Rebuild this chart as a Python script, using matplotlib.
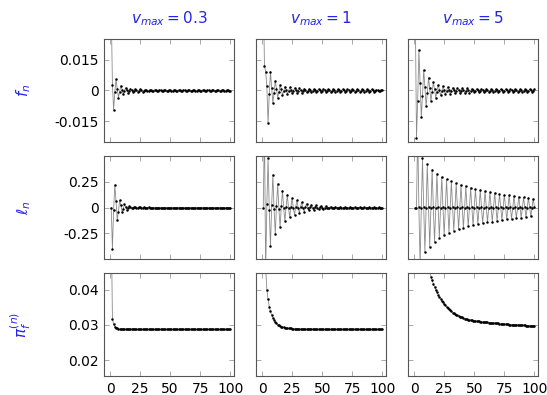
"""Grid of f_n, l_n and pi_f^(n) sequences for three v_max values."""

import matplotlib
matplotlib.use('Agg')
import matplotlib.pyplot as plt

plt.rcParams['font.family'] = 'DejaVu Sans'
plt.rcParams['mathtext.fontset'] = 'dejavusans'

n_steps = list(range(1, 101))
vmax_titles = ['$v_{max} = 0.3$', '$v_{max} = 1$', '$v_{max} = 5$']
row_labels = ['$f_n$', r'$\ell_n$', r'$\pi_f^{(n)}$']
x_ticks = [0, 25, 50, 75, 100]
row_yticks = [[-0.015, 0, 0.015], [-0.25, 0, 0.25], [0.02, 0.03, 0.04]]
row_yticklabels = [['-0.015', '0', '0.015'], ['-0.25', '0', '0.25'],
                   ['0.02', '0.03', '0.04']]

f_03 = [
    0.04, 0.0028, -0.0093, -0.0008, 0.0055, 0.0006, -0.0034, -0.0005,
    0.0024, 0.0004, -0.0017, -0.0003, 0.0013, 0.0003, -0.0010, -0.0002,
    0.0008, 0.0002, -0.0007, -0.0002, 0.0006, 0.0001, -0.0005, -0.0001,
    0.0005, 0.0001, -0.0005, -0.0001, 0.0004, 0.0001, -0.0004, -0.0001,
    0.0004, 0.0001, -0.0004, -0.0001, 0.0004, 0.0001, -0.0004, -0.0001,
    0.0004, 0.0001, -0.0004, -0.0001, 0.0004, 0.0001, -0.0004, -0.0001,
    0.0004, 0.0001, -0.0004, -0.0001, 0.0004, 0.0001, -0.0004, -0.0001,
    0.0004, 0.0001, -0.0004, -0.0001, 0.0003, 0.0001, -0.0003, -0.0001,
    0.0003, 0.0001, -0.0003, -0.0001, 0.0003, 0.0001, -0.0003, -0.0001,
    0.0003, 0.0001, -0.0003, -0.0001, 0.0003, 0.0001, -0.0003, -0.0001,
    0.0003, 0.0001, -0.0003, -0.0001, 0.0003, 0.0001, -0.0003, -0.0001,
    0.0003, 0.0001, -0.0003, -0.0001, 0.0003, 0.0001, -0.0003, -0.0001,
    0.0003, 0.0001, -0.0003, -0.0001,
]
f_1 = [
    0.05, 0.012, 0.0092, 0.0020, -0.0158, -0.0017, 0.0092, 0.0012,
    -0.0061, -0.0010, 0.0047, 0.0008, -0.0034, -0.0006, 0.0028, 0.0005,
    -0.0022, -0.0004, 0.0019, 0.0004, -0.0017, -0.0003, 0.0015, 0.0003,
    -0.0013, -0.0003, 0.0012, 0.0002, -0.0011, -0.0002, 0.0010, 0.0002,
    -0.0010, -0.0002, 0.0009, 0.0002, -0.0009, -0.0002, 0.0008, 0.0002,
    -0.0008, -0.0001, 0.0007, 0.0001, -0.0008, -0.0001, 0.0007, 0.0001,
    -0.0007, -0.0001, 0.0007, 0.0001, -0.0007, -0.0001, 0.0006, 0.0001,
    -0.0007, -0.0001, 0.0006, 0.0001, -0.0006, -0.0001, 0.0006, 0.0001,
    -0.0006, -0.0001, 0.0006, 0.0001, -0.0006, -0.0001, 0.0005, 0.0001,
    -0.0006, -0.0001, 0.0005, 0.0001, -0.0005, -0.0001, 0.0005, 0.0001,
    -0.0005, -0.0001, 0.0005, 0.0001, -0.0005, -0.0001, 0.0005, 0.0001,
    -0.0005, -0.0001, 0.0005, 0.0001, -0.0005, -0.0001, 0.0004, 0.0001,
    -0.0004, -0.0001, 0.0004, 0.0001,
]
f_5 = [
    0.04, -0.023, -0.0050, 0.0197, 0.0036, -0.0130, -0.0025, 0.0100,
    0.0018, -0.0077, -0.0013, 0.0063, 0.0010, -0.0050, -0.0008, 0.0040,
    0.0006, -0.0034, -0.0005, 0.0029, 0.0004, -0.0024, -0.0004, 0.0021,
    0.0003, -0.0019, -0.0003, 0.0017, 0.0003, -0.0016, -0.0003, 0.0014,
    0.0002, -0.0013, -0.0002, 0.0012, 0.0002, -0.0012, -0.0002, 0.0011,
    0.0002, -0.0011, -0.0002, 0.0010, 0.0002, -0.0010, -0.0002, 0.0009,
    0.0002, -0.0009, -0.0002, 0.0009, 0.0002, -0.0009, -0.0002, 0.0008,
    0.0001, -0.0008, -0.0001, 0.0008, 0.0001, -0.0008, -0.0001, 0.0007,
    0.0001, -0.0007, -0.0001, 0.0007, 0.0001, -0.0007, -0.0001, 0.0007,
    0.0001, -0.0007, -0.0001, 0.0006, 0.0001, -0.0006, -0.0001, 0.0006,
    0.0001, -0.0006, -0.0001, 0.0006, 0.0001, -0.0006, -0.0001, 0.0006,
    0.0001, -0.0006, -0.0001, 0.0005, 0.0001, -0.0005, -0.0001, 0.0005,
    0.0001, -0.0005, -0.0001, 0.0005,
]

l_03 = [
    0.0, -0.40, -0.02, 0.22, 0.06, -0.12, -0.04, 0.07,
    0.02, -0.04, -0.01, 0.03, 0.008, -0.02, -0.005, 0.012,
    0.004, -0.008, -0.003, 0.005, 0.002, -0.004, -0.001, 0.003,
    0.001, -0.002, -0.001, 0.001, 0.0, -0.001, 0.0, 0.001,
    0.0, 0.0, 0.0, 0.0, 0.0, 0.0, 0.0, 0.0,
    0.0, 0.0, 0.0, 0.0, 0.0, 0.0, 0.0, 0.0,
    0.0, 0.0, 0.0, 0.0, 0.0, 0.0, 0.0, 0.0,
    0.0, 0.0, 0.0, 0.0, 0.0, 0.0, 0.0, 0.0,
    0.0, 0.0, 0.0, 0.0, 0.0, 0.0, 0.0, 0.0,
    0.0, 0.0, 0.0, 0.0, 0.0, 0.0, 0.0, 0.0,
    0.0, 0.0, 0.0, 0.0, 0.0, 0.0, 0.0, 0.0,
    0.0, 0.0, 0.0, 0.0, 0.0, 0.0, 0.0, 0.0,
    0.0, 0.0, 0.0, 0.0,
]
l_1 = [
    0.0, 0.80, -0.62, 0.03, 0.479, -0.02, -0.378, 0.025,
    0.317, -0.015, -0.258, 0.018, 0.227, -0.012, -0.190, 0.012,
    0.165, -0.009, -0.129, 0.009, 0.123, -0.007, -0.095, 0.006,
    0.091, -0.005, -0.070, 0.004, 0.068, -0.003, -0.052, 0.003,
    0.050, -0.002, -0.039, 0.002, 0.037, -0.002, -0.029, 0.002,
    0.028, -0.001, -0.022, 0.001, 0.021, -0.001, -0.016, 0.001,
    0.016, 0.0, -0.012, 0.0, 0.012, 0.0, -0.009, 0.0,
    0.009, 0.0, -0.007, 0.0, 0.007, 0.0, -0.005, 0.0,
    0.005, 0.0, -0.004, 0.0, 0.004, 0.0, -0.003, 0.0,
    0.003, 0.0, -0.002, 0.0, 0.002, 0.0, -0.002, 0.0,
    0.002, 0.0, -0.0015, 0.0, 0.0015, 0.0, -0.001, 0.0,
    0.001, 0.0, -0.001, 0.0, 0.001, 0.0, -0.001, 0.0,
    0.001, 0.0, -0.001, 0.0,
]
l_5 = [
    0.0, 0.0, 0.75, 0.004, -0.56, -0.004, 0.479, 0.004,
    -0.430, -0.004, 0.420, 0.004, -0.384, -0.004, 0.368, 0.004,
    -0.335, -0.004, 0.328, 0.004, -0.298, -0.004, 0.298, 0.004,
    -0.268, -0.004, 0.274, 0.004, -0.245, -0.004, 0.253, 0.004,
    -0.225, -0.004, 0.235, 0.004, -0.208, -0.004, 0.220, 0.004,
    -0.195, -0.004, 0.206, 0.004, -0.183, -0.005, 0.193, 0.005,
    -0.172, -0.005, 0.181, 0.005, -0.162, -0.005, 0.170, 0.005,
    -0.153, -0.005, 0.160, 0.005, -0.145, -0.005, 0.151, 0.005,
    -0.137, -0.006, 0.142, 0.006, -0.130, -0.006, 0.134, 0.006,
    -0.123, -0.006, 0.126, 0.006, -0.116, -0.006, 0.119, 0.006,
    -0.110, -0.007, 0.112, 0.007, -0.104, -0.007, 0.105, 0.007,
    -0.098, -0.007, 0.099, 0.007, -0.092, -0.007, 0.093, 0.007,
    -0.087, -0.008, 0.087, 0.008,
]

pi_03 = [
    0.060, 0.0317, 0.0302, 0.0295, 0.0292, 0.0290, 0.0289, 0.0288,
    0.0288, 0.0288, 0.0288, 0.0288, 0.0288, 0.0288, 0.0288, 0.0288,
    0.0288, 0.0288, 0.0288, 0.0288, 0.0287, 0.0287, 0.0287, 0.0287,
    0.0287, 0.0287, 0.0287, 0.0287, 0.0287, 0.0287, 0.0287, 0.0287,
    0.0287, 0.0287, 0.0287, 0.0287, 0.0287, 0.0287, 0.0287, 0.0287,
    0.0287, 0.0287, 0.0287, 0.0287, 0.0287, 0.0287, 0.0287, 0.0287,
    0.0287, 0.0287, 0.0287, 0.0287, 0.0287, 0.0287, 0.0287, 0.0287,
    0.0287, 0.0287, 0.0287, 0.0287, 0.0287, 0.0287, 0.0287, 0.0287,
    0.0287, 0.0287, 0.0287, 0.0287, 0.0287, 0.0287, 0.0287, 0.0287,
    0.0287, 0.0287, 0.0287, 0.0287, 0.0287, 0.0287, 0.0287, 0.0287,
    0.0287, 0.0287, 0.0287, 0.0287, 0.0287, 0.0287, 0.0287, 0.0287,
    0.0287, 0.0287, 0.0287, 0.0287, 0.0287, 0.0287, 0.0287, 0.0287,
    0.0287, 0.0287, 0.0287, 0.0287,
]
pi_1 = [
    0.085, 0.058, 0.046, 0.040, 0.0372, 0.0352, 0.0338, 0.0328,
    0.0320, 0.0314, 0.0309, 0.0305, 0.0301, 0.0299, 0.0297, 0.0295,
    0.0294, 0.0293, 0.0292, 0.0291, 0.0291, 0.0290, 0.0290, 0.0290,
    0.0289, 0.0289, 0.0289, 0.0289, 0.0289, 0.0289, 0.0288, 0.0288,
    0.0288, 0.0288, 0.0288, 0.0288, 0.0288, 0.0288, 0.0288, 0.0288,
    0.0288, 0.0288, 0.0288, 0.0288, 0.0287, 0.0287, 0.0287, 0.0287,
    0.0287, 0.0287, 0.0287, 0.0287, 0.0287, 0.0287, 0.0287, 0.0287,
    0.0287, 0.0287, 0.0287, 0.0287, 0.0287, 0.0287, 0.0287, 0.0287,
    0.0287, 0.0287, 0.0287, 0.0287, 0.0287, 0.0287, 0.0287, 0.0287,
    0.0287, 0.0287, 0.0287, 0.0287, 0.0287, 0.0287, 0.0287, 0.0287,
    0.0287, 0.0287, 0.0287, 0.0287, 0.0287, 0.0287, 0.0287, 0.0287,
    0.0287, 0.0287, 0.0287, 0.0287, 0.0287, 0.0287, 0.0287, 0.0287,
    0.0287, 0.0287, 0.0287, 0.0287,
]
pi_5 = [
    0.150, 0.120, 0.100, 0.088, 0.078, 0.070, 0.064, 0.059,
    0.055, 0.052, 0.049, 0.0468, 0.0450, 0.0437, 0.0426, 0.0416,
    0.0408, 0.0400, 0.0393, 0.0386, 0.0380, 0.0374, 0.0369, 0.0364,
    0.0359, 0.0355, 0.0351, 0.0347, 0.0344, 0.0341, 0.0338, 0.0335,
    0.0333, 0.0331, 0.0329, 0.0327, 0.0325, 0.0323, 0.0322, 0.0321,
    0.0319, 0.0318, 0.0317, 0.0316, 0.0315, 0.0314, 0.0314, 0.0313,
    0.0312, 0.0312, 0.0311, 0.0311, 0.0310, 0.0310, 0.0309, 0.0309,
    0.0308, 0.0308, 0.0307, 0.0307, 0.0307, 0.0306, 0.0306, 0.0306,
    0.0305, 0.0305, 0.0305, 0.0304, 0.0304, 0.0304, 0.0303, 0.0303,
    0.0303, 0.0303, 0.0302, 0.0302, 0.0302, 0.0302, 0.0301, 0.0301,
    0.0301, 0.0301, 0.0300, 0.0300, 0.0300, 0.0300, 0.0300, 0.0299,
    0.0299, 0.0299, 0.0299, 0.0299, 0.0298, 0.0298, 0.0298, 0.0298,
    0.0298, 0.0297, 0.0297, 0.0297,
]

series = [[f_03, f_1, f_5], [l_03, l_1, l_5], [pi_03, pi_1, pi_5]]
row_ylims = [(-0.025, 0.025), (-0.5, 0.5), (0.0155, 0.0447)]

label_color = '#2424ee'

fig, axes = plt.subplots(3, 3, figsize=(5.47, 3.95), dpi=100)
fig.subplots_adjust(left=104 / 547, right=538 / 547, top=1 - 39 / 395,
                    bottom=1 - 376 / 395, wspace=0.17, hspace=0.136)

for r in range(3):
    for c in range(3):
        ax = axes[r][c]
        ax.plot(n_steps, series[r][c], '-', color='#8a8a8a', lw=0.6,
                marker='o', ms=1.8, mfc='black', mec='black', mew=0)
        ax.set_xlim(-5, 103)
        ax.set_ylim(*row_ylims[r])
        ax.set_xticks(x_ticks)
        ax.set_yticks(row_yticks[r])
        ax.tick_params(direction='in', length=3.5, width=0.6,
                       color='#9a9a9a', top=True, right=True,
                       labelsize=10, pad=4)
        for spine in ax.spines.values():
            spine.set_color('#555555')
            spine.set_linewidth(0.8)
        if c == 0:
            ax.set_yticklabels(row_yticklabels[r])
            ax.set_ylabel(row_labels[r], color=label_color, fontsize=11)
            ax.yaxis.set_label_coords(-0.55, 0.5)
        else:
            ax.set_yticklabels([])
        if r == 2:
            ax.set_xticklabels([str(t) for t in x_ticks])
        else:
            ax.set_xticklabels([])
        if r == 0:
            ax.set_title(vmax_titles[c], color=label_color, fontsize=11,
                         pad=11)

fig.savefig('out.png', dpi=100)
